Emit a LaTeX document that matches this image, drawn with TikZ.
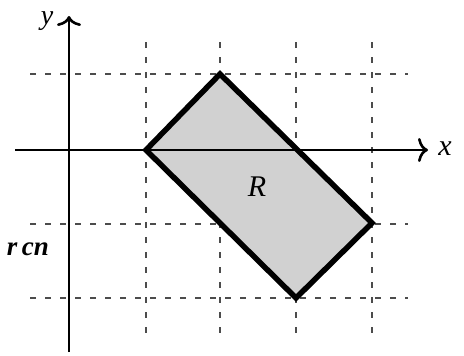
\documentclass[tikz,border=0pt]{standalone}
\usepackage{fontspec}
\setmainfont{Liberation Serif}
\usetikzlibrary{arrows.meta}
\begin{document}
\begin{tikzpicture}[x=1pt,y=-1pt,
  gridline/.style={black!70,line width=1.3pt,dash pattern=on 6pt off 9pt},
  axisline/.style={black,line width=2.6pt,-{Computer Modern Rightarrow[length=10pt,width=24pt,line width=2.6pt]}},
  region/.style={draw=black,line width=5.5pt,line join=miter},
  lbl/.style={font=\fontsize{30}{32}\selectfont\itshape,inner sep=0pt,anchor=base}]
\useasboundingbox (0,0) rectangle (464,356);
% grid
\foreach \gx in {146,220,296,372} \draw[gridline] (\gx,42) -- (\gx,338);
\foreach \gy in {74,224,298} \draw[gridline] (30,\gy) -- (408,\gy);
% region
\coordinate (A) at (146,150);
\coordinate (B) at (220,74);
\coordinate (C) at (372,223);
\coordinate (D) at (296,298);
\fill[black!18] (A) -- (B) -- (C) -- (D) -- cycle;
% axes
\coordinate (xs) at (15,150);
\coordinate (xe) at (428,150);
\coordinate (ys) at (69,352);
\coordinate (ye) at (69,16);
\draw[axisline] (xs) -- (xe);
\draw[axisline] (ys) -- (ye);
\draw[region] (A) -- (B) -- (C) -- (D) -- cycle;
\node[lbl] (xl) at (445,155) {x};
\node[lbl,font=\fontsize{28}{30}\selectfont\itshape] (yl) at (47,24) {y};
\node[lbl] (R) at (257,196) {R};
\node[lbl,font=\fontsize{27}{28}\selectfont\bfseries\itshape] (scr) at (28,255) {r\,cn};
\end{tikzpicture}
\end{document}
